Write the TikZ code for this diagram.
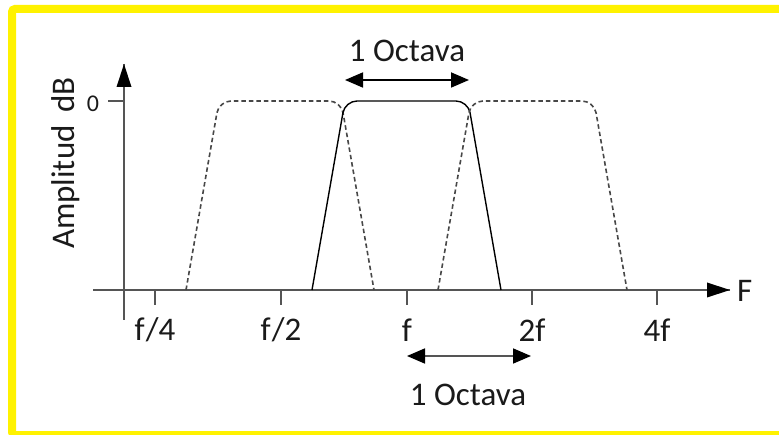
\documentclass[tikz,border=0pt]{standalone}
\usepackage{fontspec}
\setmainfont{Carlito}
\usetikzlibrary{arrows.meta}
\definecolor{axisgray}{HTML}{555555}
\definecolor{txt}{HTML}{1A1A1A}
\begin{document}
\begin{tikzpicture}[x=1pt,y=-1pt,
  axis/.style={draw=axisgray,line width=1.8pt},
  dbl/.style={line width=1.8pt,{Triangle[length=18pt,width=15pt,color=black]}-{Triangle[length=18pt,width=15pt,color=black]}},
  band/.style={line width=1.4pt,rounded corners=12pt},
  dashband/.style={band,draw=black!72,line width=1.6pt,dash pattern=on 4.5pt off 3pt},
  lbl/.style={text=txt,font=\fontsize{33}{35}\selectfont,inner sep=0pt},
  tick/.style={draw=axisgray,line width=1.8pt}]
\useasboundingbox (0,0) rectangle (779,435);
% frame
\draw[yellow,line width=8pt,rounded corners=3pt] (12,9) rectangle (784,435);
% axes
\coordinate (ytop) at (124,64);
\coordinate (ybot) at (124,320);
\coordinate (xl) at (93,290);
\coordinate (xr) at (730,290);
\draw[axis] (ybot) -- (ytop);
\fill (ytop) -- (116.5,87) -- (131.5,87) -- cycle;
\draw[axis] (xl) -- (xr);
\fill (xr) -- (707,282.5) -- (707,297.5) -- cycle;
\node[lbl,anchor=west] (F) at (737,291) {F};
\node[lbl,rotate=90] (amp) at (66,163) {Amplitud\, dB};
% 0 dB mark
\draw[tick] (108,101) -- (124,101);
\node[lbl,font=\fontsize{24}{26}\selectfont] (zero) at (93,104) {0};
% frequency ticks
\foreach \xx/\tx/\nm in {155/{f\kern1pt/4}/q,281/{f\kern1pt/2}/h,407/f/one,532/2f/two,657/4f/four}{
  \draw[tick] (\xx,290) -- (\xx,305);
  \node[lbl] (\nm) at (\xx,330) {\tx};
}
% pass bands
\draw[dashband] (186,290) -- (219,101) -- (341,101) -- (374,290);
\draw[band] (312,290) -- (345,101) -- (468,101) -- (501,290);
\draw[dashband] (438,290) -- (471,101) -- (594,101) -- (627,290);
% octave markers
\coordinate (ta) at (345,80);
\coordinate (tb) at (469,80);
\draw[dbl] (ta) -- (tb);
\node[lbl] (toct) at (407,51) {1 Octava};
\coordinate (ba) at (407,356);
\coordinate (bb) at (531,356);
\draw[dbl,draw=axisgray] (ba) -- (bb);
\node[lbl] (boct) at (468,395) {1 Octava};
\end{tikzpicture}
\end{document}
